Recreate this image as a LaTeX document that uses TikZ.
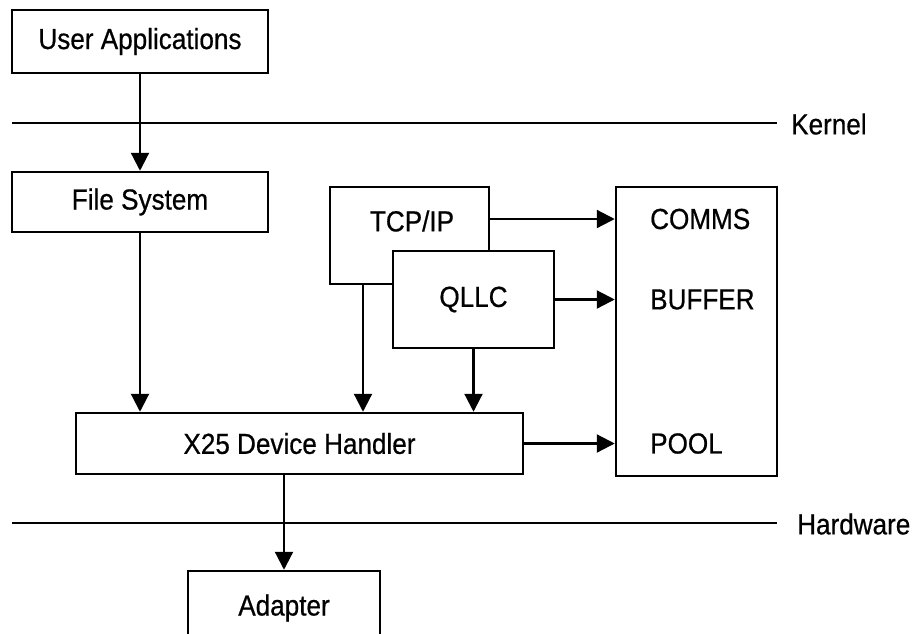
\documentclass[tikz,border=0pt]{standalone}
\usepackage{fontspec}
\setmainfont{Liberation Sans}[FakeStretch=0.9,FakeBold=0.6]
\usetikzlibrary{arrows.meta}
\newcommand\diagfont{\fontsize{29}{34}\selectfont}
\begin{document}
\begin{tikzpicture}[x=1pt,y=-1pt,
  box/.style={draw, line width=2.5pt, fill=white, inner sep=0pt, font=\diagfont},
  lbl/.style={inner sep=0pt, font=\diagfont},
  arr/.style={line width=2.2pt, -{Triangle[width=18pt,length=18pt]}},
  layer/.style={line width=1.6pt}]
\useasboundingbox (0,0) rectangle (912,633);
\clip (0,0) rectangle (912,633);

% layer boundaries
\coordinate (k1) at (12,123);
\coordinate (k2) at (777,123);
\coordinate (h1) at (12,523);
\coordinate (h2) at (777,523);
\draw[layer] (k1) -- (k2);
\draw[layer] (h1) -- (h2);
\node[lbl, anchor=west] (kern) at (791,124) {Kernel};
\node[lbl, anchor=west] (hw) at (797,524) {Hardware};

% components
\node[box, minimum width=256pt, minimum height=63pt] (ua) at (140,41.5) {User Applications};
\node[box, minimum width=256pt, minimum height=60pt] (fs) at (140,202) {File System};
\node[box, minimum width=159pt, minimum height=97pt] (tcp) at (409.5,235.5) {};
\node[lbl] (tcptxt) at (412,221) {TCP/IP};
\node[box, minimum width=161pt, minimum height=97pt] (qllc) at (473.5,299.5) {QLLC};
\node[box, minimum width=161pt, minimum height=289pt] (pool) at (696.5,331.5) {};
\node[lbl, anchor=west] (comms) at (650,219) {COMMS};
\node[lbl, anchor=west] (buffer) at (650,299.5) {BUFFER};
\node[lbl, anchor=west] (pooltxt) at (650,443.5) {POOL};
\node[box, minimum width=447pt, minimum height=61pt] (x25) at (299.5,443.5) {X25 Device Handler};
\node[box, minimum width=192pt, minimum height=74pt] (adp) at (284,608) {Adapter};
\coordinate (tcpout) at (363,284);

% connectors
\draw[arr] (ua.south) -- (fs.north);
\draw[arr] (fs.south) -- (fs.south |- x25.north);
\draw[arr] (tcpout) -- (tcpout |- x25.north);
\draw[arr] (qllc.south) -- (qllc.south |- x25.north);
\draw[arr] (tcp.east |- comms) -- (pool.west |- comms);
\draw[arr] (qllc.east) -- (qllc.east -| pool.west);
\draw[arr] (x25.east) -- (x25.east -| pool.west);
\draw[arr] (x25.south -| adp.north) -- (adp.north);
\end{tikzpicture}
\end{document}
